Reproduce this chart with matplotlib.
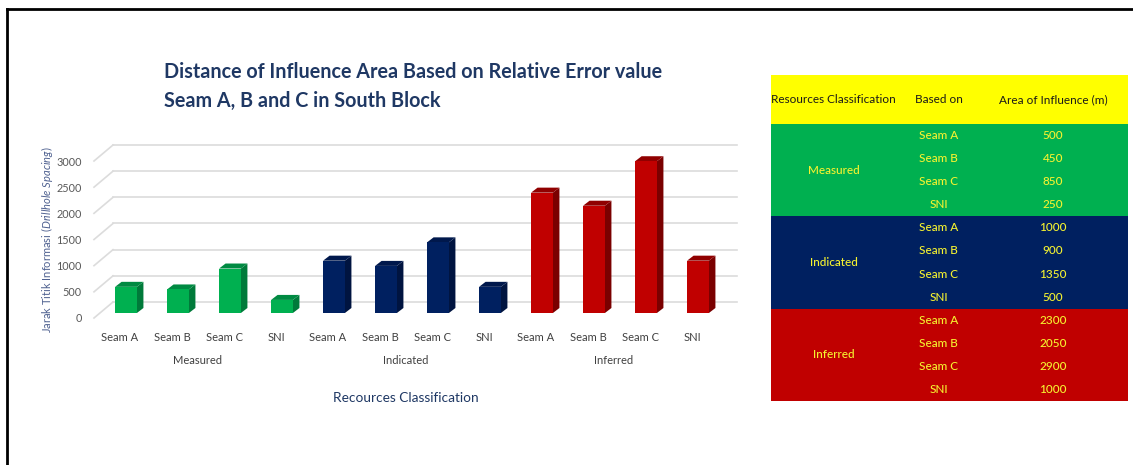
import matplotlib
matplotlib.use("Agg")
import matplotlib.pyplot as plt
from matplotlib.patches import Polygon, Rectangle
from matplotlib.lines import Line2D
import numpy as np

plt.rcParams["font.family"] = ["Lato", "DejaVu Sans"]
plt.rcParams["mathtext.fontset"] = "custom"
plt.rcParams["mathtext.rm"] = "Lato"
plt.rcParams["mathtext.it"] = "Lato:italic"

# ---- data ----
groups = ["Measured", "Indicated", "Inferred"]
seams = ["Seam A", "Seam B", "Seam C", "SNI"]
measured = [500, 450, 850, 250]
indicated = [1000, 900, 1350, 500]
inferred = [2300, 2050, 2900, 1000]
y_ticks = [0, 500, 1000, 1500, 2000, 2500, 3000]

group_values = [measured, indicated, inferred]
face_colors = ["#00B050", "#002060", "#C00000"]
side_colors = ["#007A3A", "#001440", "#7A0000"]
top_colors = ["#008A42", "#00184C", "#900000"]
text_yellow = "#F5F230"

W, H = 1133, 465
fig = plt.figure(figsize=(W / 100, H / 100), dpi=100)

def fx(px):
    return px / W

def fy(py):
    return 1 - py / H

# ---- chart axes (front plane) ----
ax = fig.add_axes([fx(94), fy(318), fx(624), 157 / H])
ax.set_xlim(-0.5, 11.5)
ax.set_ylim(0, 3000)
for s in ax.spines.values():
    s.set_visible(False)
ax.patch.set_alpha(0)

values = [v for g in group_values for v in g]
xpos = np.arange(len(values))
fig.canvas.draw()

td = ax.transData
# back wall offset and bar offsets in pixels
BDX, BDY = 19, 16
OX, OY = 6, 5
DX, DY = 6.5, 5
grid_c = "#DCDCDC"

# gridlines on back wall plus left floor/wall diagonals
for v in y_ticks:
    x0, y0 = td.transform((-0.5, v))
    x1, _ = td.transform((11.5, v))
    fig.add_artist(Line2D([x0 + BDX, x1 + BDX], [y0 + BDY, y0 + BDY],
                          transform=None, color=grid_c, lw=1.2, zorder=1))
    fig.add_artist(Line2D([x0, x0 + BDX], [y0, y0 + BDY],
                          transform=None, color=grid_c, lw=1.2, zorder=1))

# 3D-style bars
bar_w = 0.42
for i, v in enumerate(values):
    g = i // 4
    xl, yb = td.transform((xpos[i] - bar_w / 2, 0))
    xr, yt = td.transform((xpos[i] + bar_w / 2, v))
    xl += OX; xr += OX; yb += OY; yt += OY
    front = Rectangle((xl, yb), xr - xl, yt - yb, transform=None,
                      facecolor=face_colors[g], edgecolor="none", zorder=3)
    side = Polygon([(xr, yb), (xr + DX, yb + DY), (xr + DX, yt + DY), (xr, yt)],
                   closed=True, transform=None, facecolor=side_colors[g],
                   edgecolor="none", zorder=3)
    top = Polygon([(xl, yt), (xr, yt), (xr + DX, yt + DY), (xl + DX, yt + DY)],
                  closed=True, transform=None, facecolor=top_colors[g],
                  edgecolor="none", zorder=3)
    for p in (side, top, front):
        fig.add_artist(p)

# axes labels
ax.set_yticks(y_ticks)
ax.set_yticklabels([str(t) for t in y_ticks], fontsize=7.8, color="#595959")
ax.set_xticks(xpos)
ax.set_xticklabels(seams * 3, fontsize=8, color="#404040")
ax.tick_params(axis="both", length=0)
ax.tick_params(axis="y", pad=9)
ax.tick_params(axis="x", pad=10)

for gi, name in enumerate(groups):
    ax.annotate(name, xy=(gi * 4 + 1.5, 0), xycoords=("data", "axes fraction"),
                xytext=(0, -43), textcoords="offset pixels",
                ha="center", va="center", fontsize=8, color="#404040")

ax.annotate("Recources Classification", xy=(0.5, 0), xycoords="axes fraction",
            xytext=(0, -80), textcoords="offset pixels",
            ha="center", va="center", fontsize=9.8, color="#1F3864")

fig.text(fx(47), fy(240), r"Jarak Titik Informasi ($\mathit{Drillhole\ Spacing}$)",
         rotation=90, ha="center", va="center", fontsize=8, color="#4F6190")

# title
title_c = "#1F3864"
fig.text(fx(164), fy(72), "Distance of Influence Area Based on Relative Error value",
         ha="left", va="center", fontsize=14.2, fontweight="bold", color=title_c)
fig.text(fx(164), fy(101), "Seam A, B and C in South Block",
         ha="left", va="center", fontsize=14.2, fontweight="bold", color=title_c)

# ---- summary table ----
tax = fig.add_axes([fx(771), fy(401), fx(1128 - 771), (401 - 75) / H])
tax.set_axis_off()
header_h = 49 / 23.1
n_rows = len(values)
tax.set_xlim(0, 1)
tax.set_ylim(n_rows + header_h, 0)

tfs = 8.5
tax.add_patch(Rectangle((0, 0), 1, header_h, facecolor="#FFFF00", edgecolor="none"))
col_x = [0.176, 0.47, 0.79]
headers = ["Resources Classification", "Based on", "Area of Influence (m)"]
for cx, hd in zip(col_x, headers):
    tax.text(cx, header_h / 2, hd, ha="center", va="center", fontsize=tfs, color="#1a1a1a")

for gi, name in enumerate(groups):
    y0 = header_h + gi * 4
    tax.add_patch(Rectangle((0, y0), 1, 4, facecolor=face_colors[gi], edgecolor="none"))
    tax.text(col_x[0], y0 + 2, name, ha="center", va="center", fontsize=tfs,
             color=text_yellow, fontweight="medium")
    for si, seam in enumerate(seams):
        yc = y0 + si + 0.5
        tax.text(col_x[1], yc, seam, ha="center", va="center", fontsize=tfs,
                 color=text_yellow, fontweight="medium")
        tax.text(col_x[2], yc, str(group_values[gi][si]), ha="center", va="center",
                 fontsize=tfs, color=text_yellow, fontweight="medium")

# outer frame
fig.add_artist(Line2D([6.5, W], [H - 8.5, H - 8.5], transform=None, color="black", lw=2))
fig.add_artist(Line2D([6.5, 6.5], [0, H - 8.5], transform=None, color="black", lw=2))

fig.savefig("out.png", dpi=100)
